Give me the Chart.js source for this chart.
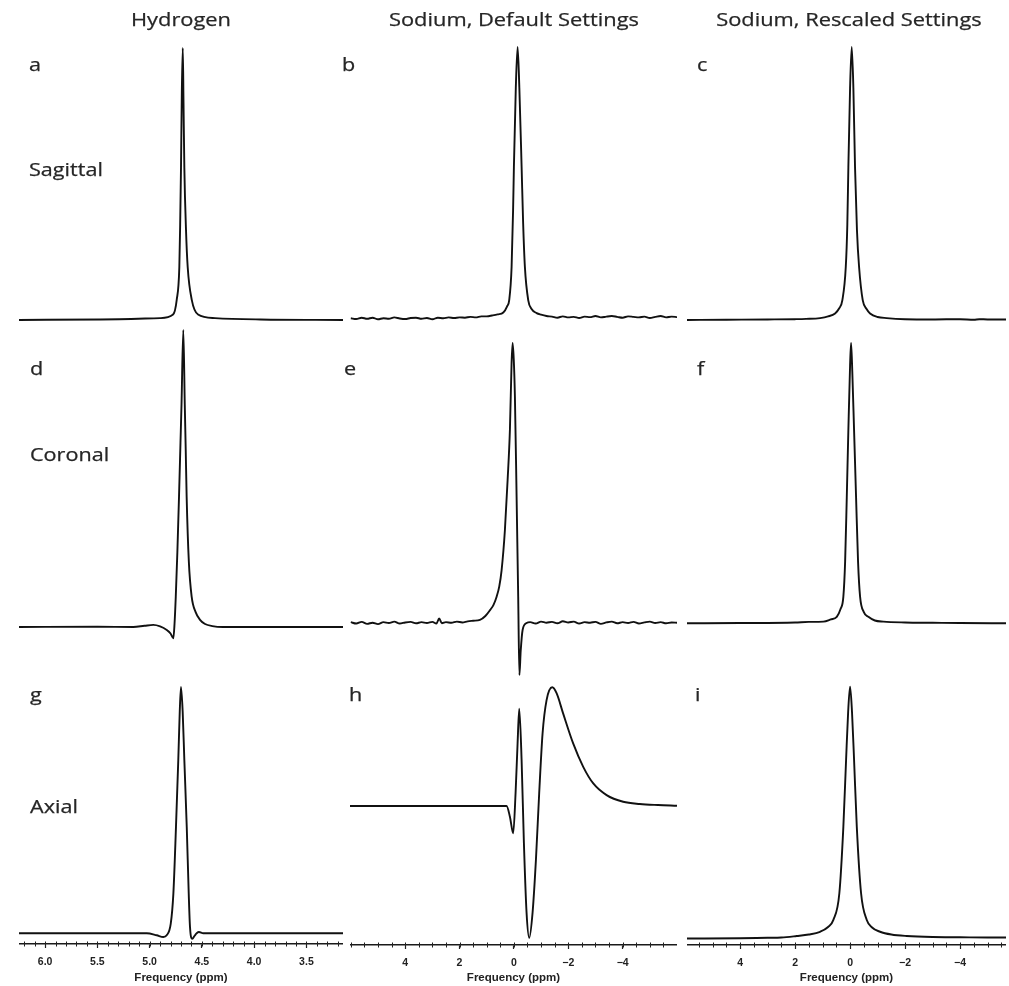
<!DOCTYPE html>
<html><head><meta charset="utf-8">
<script src="https://cdn.jsdelivr.net/npm/chart.js@4.4.1/dist/chart.umd.min.js"></script>
<style>
html,body{margin:0;padding:0;background:#fff;overflow:hidden;}
body{width:1009px;height:986px;position:relative;}
canvas{position:absolute;}
.t{position:absolute;font-family:"Open Sans",sans-serif;color:#262626;white-space:nowrap;line-height:1;-webkit-text-stroke:0.25px #262626;}
.col{font-size:19px;width:400px;text-align:center;transform:scaleX(1.15);transform-origin:center;}
.lab{font-size:18px;transform:scaleX(1.2);transform-origin:left;}
</style></head><body>
<script>
// ---------- DATA (ppm, intensity normalised to main feature = 100) ----------
const columnTitles = ['Hydrogen', 'Sodium, Default Settings', 'Sodium, Rescaled Settings'];
const rowLabels = ['Sagittal', 'Coronal', 'Axial'];
const panelLetters = ['a','b','c','d','e','f','g','h','i'];
const axisTitle = 'Frequency (ppm)';

const hydrogenTicks = [6.0, 5.5, 5.0, 4.5, 4.0, 3.5];
const hydrogenTickLabels = ['6.0', '5.5', '5.0', '4.5', '4.0', '3.5'];
const sodiumTicks = [4, 2, 0, -2, -4];
const sodiumTickLabels = ['4', '2', '0', '\u22122', '\u22124'];

const ppmA = [6.25, 5.47, 4.90, 4.776, 4.741, 4.716, 4.708, 4.700, 4.692, 4.683, 4.676, 4.668, 4.652, 4.636, 4.597, 4.537, 4.375, 3.94, 3.15];
const intA = [0, 0.2, 0.7, 2, 7.4, 19.5, 35, 56, 84, 100, 80, 56, 33, 19.5, 7.4, 2, 0.7, 0.2, 0];

const ppmB = [6.0,5.8,5.6,5.4,5.2,5.0,4.8,4.6,4.4,4.2,4.0,3.8,3.6,3.4,3.2,3.0,2.8,2.6,2.4,2.2,2.0,1.8,1.6,1.4,1.2,1.0,0.8,0.6,
  0.39,0.25,0.173,0.085,0.03,0.0,-0.07,-0.136,-0.2,-0.283,-0.34,-0.404,-0.526,-0.65,-0.835,
  -1.0,-1.2,-1.4,-1.6,-1.8,-2.0,-2.2,-2.4,-2.6,-2.8,-3.0,-3.2,-3.4,-3.6,-3.8,-4.0,-4.2,-4.4,-4.6,-4.8,-5.0,-5.2,-5.4,-5.6,-5.8,-6.0];
const intB = [0.1,-0.2,0.3,-0.1,0.3,-0.3,0.1,-0.1,0.4,0.0,-0.2,0.2,0.3,-0.1,0.2,-0.3,0.3,0.1,0.4,0.2,0.4,0.3,0.6,0.4,0.8,0.8,1.1,1.5,
  2.2,4.5,6.8,19,40,56,85,100,85,56,35,19,6.8,3.5,2.0,
  1.4,0.9,0.7,0.3,0.8,0.4,0.6,0.2,0.7,0.5,0.9,0.4,0.7,0.9,0.6,0.3,0.8,0.6,0.4,0.7,0.2,0.6,0.9,0.4,0.7,0.5];

const ppmC = [5.93, 4.5, 3.0, 2.0, 1.6, 1.09, 0.8, 0.545, 0.4, 0.28, 0.156, 0.1, 0.062, 0.0, -0.06, -0.12, -0.18, -0.25, -0.327, -0.46, -0.6, -0.727, -1.0, -1.33, -2.0, -3.0, -4.0, -4.5, -4.7, -5.0, -5.67];
const intC = [0, 0.1, 0.2, 0.3, 0.4, 0.7, 1.3, 2.4, 4.2, 7.3, 19.5, 35, 56, 85, 100, 85, 56, 33, 19.5, 7.3, 4, 2.4, 1.1, 0.7, 0.3, 0.2, 0.3, 0.1, 0.3, 0.2, 0.2];

const ppmD = [6.25, 5.5, 5.156, 5.05, 4.965, 4.9, 4.836, 4.80, 4.773, 4.762, 4.75, 4.735, 4.719, 4.705, 4.695, 4.678, 4.664, 4.655, 4.646, 4.625, 4.598, 4.56, 4.518, 4.47, 4.40, 4.30, 3.15];
const intD = [0, 0.1, 0, 0.4, 0.7, 0.2, -1.0, -2.2, -3.8, 1, 10.2, 25, 43.9, 62, 75, 100, 75, 60, 43.9, 22, 10.2, 5, 2.4, 1.0, 0.3, 0, 0];

const ppmE = [6.0,5.8,5.6,5.4,5.2,5.0,4.8,4.6,4.4,4.2,4.0,3.8,3.6,3.4,3.2,3.0,2.85,2.75,2.65,2.5,2.3,2.1,1.9,1.7,1.5,
  1.25,1.05,0.88,0.75,0.636,0.54,0.452,0.331,0.232,0.147,0.085,0.048,0.005,-0.037,-0.099,-0.158,-0.202,-0.25,-0.32,-0.467,
  -0.6,-0.8,-1.0,-1.2,-1.4,-1.6,-1.8,-2.0,-2.2,-2.4,-2.6,-2.8,-3.0,-3.2,-3.4,-3.6,-3.8,-4.0,-4.2,-4.4,-4.6,-4.8,-5.0,-5.2,-5.4,-5.6,-5.8,-6.0];
const intE = [0.3,-0.2,0.4,-0.3,0.1,-0.4,0.3,0.0,0.5,-0.2,0.2,0.4,-0.1,0.3,0.0,0.4,-0.2,1.6,-0.1,0.3,0.1,0.5,0.2,0.6,0.8,
  1.1,2.5,4.6,6.5,9.4,13,18.9,33.2,51,69,93,100,94,80.8,45,9.4,-18.6,-10,-2.5,0,
  0.3,-0.2,0.5,0.1,0.4,-0.1,0.6,0.2,0.5,-0.2,0.3,0.1,0.4,-0.3,0.2,0.5,-0.1,0.3,0.0,0.4,-0.2,0.2,0.5,0.0,0.3,-0.1,0.2,0.1];

const ppmF = [5.93, 4.0, 2.0, 1.5, 0.97, 0.7, 0.484, 0.35, 0.244, 0.18, 0.12, 0.062, 0.0, -0.036, -0.08, -0.145, -0.218, -0.29, -0.364, -0.5, -0.665, -0.9, -1.21, -2.0, -3.0, -4.0, -5.67];
const intF = [0, 0.1, 0.3, 0.5, 0.6, 1.4, 2.3, 5, 9.5, 22, 45, 69, 92, 100, 90, 69, 45, 22, 9.5, 4, 2.3, 1.0, 0.6, 0.3, 0.2, 0.1, 0];

const ppmG = [6.25, 5.5, 5.028, 4.932, 4.869, 4.837, 4.798, 4.773, 4.748, 4.726, 4.712, 4.70, 4.684, 4.668, 4.645, 4.626, 4.614, 4.592, 4.57, 4.55, 4.528, 4.487, 3.15];
const intG = [0, 0, 0, -0.8, -1.5, -0.8, 3.9, 16.1, 43.2, 70.3, 90, 100, 90, 70.3, 43.2, 16.1, 2.6, -2.2, -1, 0, 0.5, 0, 0];

const ppmH = [6.03, 3.0, 1.0, 0.27, 0.147, 0.026, -0.061, -0.135, -0.196, -0.283, -0.368, -0.466, -0.564, -0.686, -0.81, -0.93, -1.054, -1.2, -1.41, -1.57, -1.81, -2.18, -2.55, -2.92, -3.41, -4.02, -4.63, -5.3, -6.0];
const intH = [0, 0, 0, 0, -9, -23, 10.7, 52.7, 82, 38.7, -31.3, -90, -111, -90, -45.4, 10.7, 61, 89, 100, 95, 78, 52.7, 33, 19, 9.2, 3.6, 1.7, 0.8, 0.2];

const ppmI = [5.93, 4.0, 3.0, 2.5, 1.94, 1.5, 1.09, 0.8, 0.607, 0.39, 0.244, 0.145, 0.07, 0.0, -0.07, -0.145, -0.244, -0.4, -0.607, -0.8, -1.09, -1.5, -2.06, -3.0, -4.0, -5.0, -5.67];
const intI = [-0.1, 0.0, 0.2, 0.3, 0.9, 1.5, 2.6, 4.5, 7.3, 17.9, 44.4, 71, 90, 100, 90, 71, 44.4, 17.9, 7.3, 4.3, 2.6, 1.5, 0.9, 0.5, 0.4, 0.3, 0.3];

// ---------- LAYOUT / STYLE ----------
const COLS = [
  {L: 19,  R: 343,  min: 3.15,  max: 6.25, ticks: hydrogenTicks, labels: hydrogenTickLabels, minorStep: 0.1, axisY: 944},
  {L: 350, R: 677,  min: -6.0,  max: 6.03, ticks: sodiumTicks,   labels: sodiumTickLabels,   minorStep: 0.5, axisY: 945},
  {L: 687, R: 1006, min: -5.67, max: 5.93, ticks: sodiumTicks,   labels: sodiumTickLabels,   minorStep: 0.5, axisY: 945}
];
const ROWS = [{T: 30, B: 340}, {T: 318, B: 692}, {T: 672, B: null}];
// baseline pixel (0) and top pixel (100) of each panel
const PANEL_Y = [
  [320, 48], [318.5, 47], [320, 47],
  [627, 330], [623, 343], [623.3, 343],
  [933.3, 687], [806, 687.3], [938.3, 686.7]
];
const SERIES = [[ppmA,intA],[ppmB,intB],[ppmC,intC],[ppmD,intD],[ppmE,intE],[ppmF,intF],[ppmG,intG],[ppmH,intH],[ppmI,intI]];
const PAGE_H = 986;
const LINE = '#111111';
const TEXT = '#222222';

const minorTickPlugin = {
  id: 'minorTicks',
  afterDraw(chart, args, opts) {
    if (!opts || !opts.step) return;
    const s = chart.scales.x;
    const y = chart.chartArea.bottom;
    const ctx = chart.ctx;
    ctx.save();
    ctx.strokeStyle = '#222';
    ctx.lineWidth = 1;
    ctx.beginPath();
    const lo = Math.min(s.min, s.max), hi = Math.max(s.min, s.max);
    const n0 = Math.ceil(lo / opts.step - 1e-9), n1 = Math.floor(hi / opts.step + 1e-9);
    for (let k = n0; k <= n1; k++) {
      const px = Math.round(s.getPixelForValue(k * opts.step)) + 0.5;
      ctx.moveTo(px, y - 2.5);
      ctx.lineTo(px, y + 2.5);
    }
    ctx.stroke();
    ctx.restore();
  }
};

function makePanel(idx) {
  const r = Math.floor(idx / 3), c = idx % 3;
  const col = COLS[c], row = ROWS[r];
  const bottomRow = r === 2;
  const T = row.T;
  const B = bottomRow ? col.axisY : row.B;
  const [yb, yp] = PANEL_Y[idx];
  const unit = (yb - yp) / 100;
  const yMin = -(B - yb) / unit;
  const yMax = (yb - T) / unit;
  const cv = document.createElement('canvas');
  const w = col.R - col.L;
  const h = bottomRow ? PAGE_H - T : B - T;
  cv.width = w; cv.height = h;
  cv.style.left = col.L + 'px'; cv.style.top = T + 'px';
  cv.style.width = w + 'px'; cv.style.height = h + 'px';
  document.body.appendChild(cv);
  const [xs, ys] = SERIES[idx];
  const xScale = {
    type: 'linear', reverse: true, min: col.min, max: col.max,
    display: bottomRow,
    afterBuildTicks: s => { s.ticks = col.ticks.map(v => ({value: v})); },
    afterFit: s => { if (bottomRow) s.height = PAGE_H - col.axisY; },
    grid: {display: true, drawOnChartArea: false, drawTicks: true, tickLength: 4, tickColor: '#222', tickWidth: 1.2},
    border: {display: true, color: '#1a1a1a', width: 1.4},
    ticks: {
      autoSkip: false, maxRotation: 0, padding: 8, color: TEXT,
      font: {family: '"Liberation Sans", Arial, sans-serif', size: 10.5, weight: 'bold'},
      callback: (v, i) => col.labels[i]
    },
    title: {display: true, text: axisTitle, color: TEXT, padding: {top: 0, bottom: 1},
      font: {family: '"Liberation Sans", Arial, sans-serif', size: 11.5, weight: 'bold'}}
  };
  new Chart(cv, {
    type: 'scatter',
    data: {datasets: [{
      data: xs.map((x, i) => ({x: x, y: ys[i]})),
      showLine: true, pointRadius: 0, borderColor: LINE, borderWidth: 1.9,
      cubicInterpolationMode: 'monotone', clip: false, fill: false
    }]},
    options: {
      responsive: false, animation: false, events: [],
      layout: {padding: 0},
      plugins: {legend: {display: false}, tooltip: {enabled: false}, title: {display: false},
        minorTicks: bottomRow ? {step: col.minorStep} : {}},
      scales: {x: xScale, y: {display: false, min: yMin, max: yMax}}
    },
    plugins: [minorTickPlugin]
  });
}
for (let i = 0; i < 9; i++) makePanel(i);

// ---------- TEXT ----------
function addText(txt, cls, left, top) {
  const d = document.createElement('div');
  d.className = 't ' + cls;
  d.textContent = txt;
  d.style.left = left + 'px'; d.style.top = top + 'px';
  document.body.appendChild(d);
}
const TITLE_CX = [181, 514, 849];
columnTitles.forEach((t, i) => addText(t, 'col', TITLE_CX[i] - 200, 10));
const LETTER_POS = [[29, 55], [342, 55], [697, 55], [30, 359], [344, 359], [697, 359], [30, 685], [349, 685], [695, 685]];
panelLetters.forEach((t, i) => addText(t, 'lab', LETTER_POS[i][0], LETTER_POS[i][1]));
const ROWLABEL_POS = [[29, 160], [30, 445], [30, 797]];
rowLabels.forEach((t, i) => addText(t, 'lab', ROWLABEL_POS[i][0], ROWLABEL_POS[i][1]));
</script>
</body></html>
